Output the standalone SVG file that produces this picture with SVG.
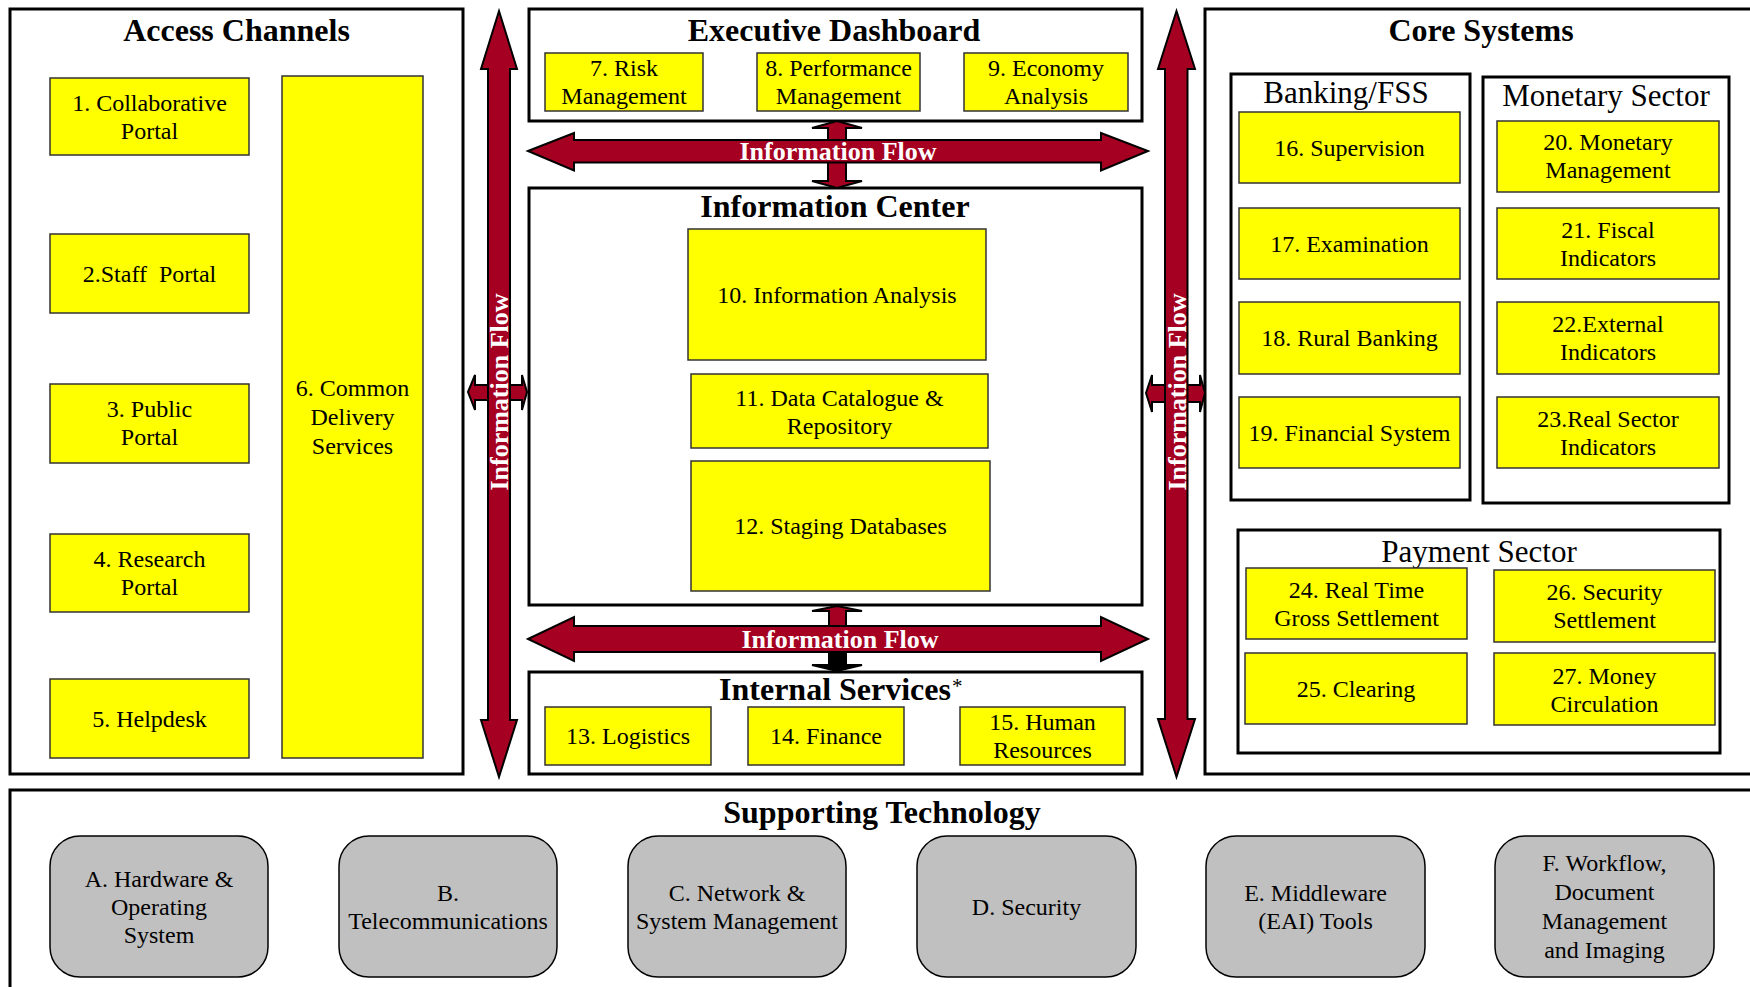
<svg xmlns="http://www.w3.org/2000/svg" width="1750" height="987" viewBox="0 0 1750 987">
<style>
text{font-family:"Liberation Serif","Times New Roman",serif;fill:#000;text-anchor:middle}
.t{font-size:24px}
.h{font-size:32px;font-weight:bold}
.s{font-size:31px}
.c{fill:#fff;stroke:#000;stroke-width:3}
.y{fill:#ffff00;stroke:#333;stroke-width:1.5}
.g{fill:#c0c0c0;stroke:#000;stroke-width:1.5}
.a{fill:#a50021;stroke:#000;stroke-width:2;stroke-linejoin:miter}
.ab{fill:#000;stroke:#000;stroke-width:2}
.f{fill:#fff;font-size:26px;font-weight:bold}
</style>
<rect width="1750" height="987" fill="#fff"/>

<g id="access-channels">
<rect class="c" x="10" y="9" width="453" height="765"/>
<text class="h" x="236.5" y="41">Access Channels</text>
<g id="n1"><rect class="y" x="50" y="78" width="199" height="77"/><text class="t" x="149.5" y="110.5">1. Collaborative</text><text class="t" x="149.5" y="138.5">Portal</text></g>
<g id="n2"><rect class="y" x="50" y="234" width="199" height="79"/><text class="t" x="149.5" y="281.5" xml:space="preserve">2.Staff  Portal</text></g>
<g id="n3"><rect class="y" x="50" y="384" width="199" height="79"/><text class="t" x="149.5" y="417">3. Public</text><text class="t" x="149.5" y="445">Portal</text></g>
<g id="n4"><rect class="y" x="50" y="534" width="199" height="78"/><text class="t" x="149.5" y="567">4. Research</text><text class="t" x="149.5" y="595">Portal</text></g>
<g id="n5"><rect class="y" x="50" y="679" width="199" height="79"/><text class="t" x="149.5" y="726.5">5. Helpdesk</text></g>
<g id="n6"><rect class="y" x="282" y="76" width="141" height="682"/><text class="t" x="352.5" y="396">6. Common</text><text class="t" x="352.5" y="425">Delivery</text><text class="t" x="352.5" y="454">Services</text></g>
</g>

<g id="executive-dashboard">
<rect class="c" x="529" y="9" width="613" height="112"/>
<text class="h" x="834" y="41">Executive Dashboard</text>
<g id="n7"><rect class="y" x="545" y="53" width="158" height="58"/><text class="t" x="624" y="76">7. Risk</text><text class="t" x="624" y="104">Management</text></g>
<g id="n8"><rect class="y" x="757" y="53" width="163" height="58"/><text class="t" x="838.5" y="76">8. Performance</text><text class="t" x="838.5" y="104">Management</text></g>
<g id="n9"><rect class="y" x="964" y="53" width="164" height="58"/><text class="t" x="1046" y="76">9. Economy</text><text class="t" x="1046" y="104">Analysis</text></g>
</g>

<g id="information-center">
<rect class="c" x="529" y="188" width="613" height="417"/>
<text class="h" x="835" y="217">Information Center</text>
<g id="n10"><rect class="y" x="688" y="229" width="298" height="131"/><text class="t" x="837" y="302.5">10. Information Analysis</text></g>
<g id="n11"><rect class="y" x="691" y="374" width="297" height="74"/><text class="t" x="839.5" y="405.5">11. Data Catalogue &amp;</text><text class="t" x="839.5" y="433.5">Repository</text></g>
<g id="n12"><rect class="y" x="691" y="461" width="299" height="130"/><text class="t" x="840.5" y="534">12. Staging Databases</text></g>
</g>

<g id="internal-services">
<rect class="c" x="529" y="672" width="613" height="102"/>
<text class="h" x="835" y="700">Internal Services</text>
<text style="font-size:21px;text-anchor:start" x="952" y="693">*</text>
<g id="n13"><rect class="y" x="545" y="707" width="166" height="58"/><text class="t" x="628" y="744">13. Logistics</text></g>
<g id="n14"><rect class="y" x="748" y="707" width="156" height="58"/><text class="t" x="826" y="744">14. Finance</text></g>
<g id="n15"><rect class="y" x="960" y="707" width="165" height="58"/><text class="t" x="1042.5" y="730">15. Human</text><text class="t" x="1042.5" y="758">Resources</text></g>
</g>

<g id="core-systems">
<rect class="c" x="1205" y="9" width="600" height="765"/>
<text class="h" x="1481" y="41">Core Systems</text>
<g id="banking-fss">
<rect class="c" x="1231" y="74" width="239" height="426"/>
<text class="s" x="1346" y="103">Banking/FSS</text>
<g id="n16"><rect class="y" x="1239" y="112" width="221" height="71"/><text class="t" x="1349.5" y="155.5">16. Supervision</text></g>
<g id="n17"><rect class="y" x="1239" y="208" width="221" height="71"/><text class="t" x="1349.5" y="251.5">17. Examination</text></g>
<g id="n18"><rect class="y" x="1239" y="302" width="221" height="72"/><text class="t" x="1349.5" y="346">18. Rural Banking</text></g>
<g id="n19"><rect class="y" x="1239" y="397" width="221" height="71"/><text class="t" x="1349.5" y="440.5">19. Financial System</text></g>
</g>
<g id="monetary-sector">
<rect class="c" x="1483" y="77" width="246" height="426"/>
<text class="s" x="1606" y="106">Monetary Sector</text>
<g id="n20"><rect class="y" x="1497" y="121" width="222" height="71"/><text class="t" x="1608" y="150">20. Monetary</text><text class="t" x="1608" y="178">Management</text></g>
<g id="n21"><rect class="y" x="1497" y="208" width="222" height="71"/><text class="t" x="1608" y="237.5">21. Fiscal</text><text class="t" x="1608" y="265.5">Indicators</text></g>
<g id="n22"><rect class="y" x="1497" y="302" width="222" height="72"/><text class="t" x="1608" y="332">22.External</text><text class="t" x="1608" y="360">Indicators</text></g>
<g id="n23"><rect class="y" x="1497" y="397" width="222" height="71"/><text class="t" x="1608" y="426.5">23.Real Sector</text><text class="t" x="1608" y="454.5">Indicators</text></g>
</g>
<g id="payment-sector">
<rect class="c" x="1238" y="530" width="482" height="223"/>
<text class="s" x="1479" y="562">Payment Sector</text>
<g id="n24"><rect class="y" x="1246" y="568" width="221" height="71"/><text class="t" x="1356.5" y="597.5">24. Real Time</text><text class="t" x="1356.5" y="625.5">Gross Settlement</text></g>
<g id="n25"><rect class="y" x="1245" y="653" width="222" height="71"/><text class="t" x="1356" y="696.5">25. Clearing</text></g>
<g id="n26"><rect class="y" x="1494" y="570" width="221" height="72"/><text class="t" x="1604.5" y="600">26. Security</text><text class="t" x="1604.5" y="628">Settlement</text></g>
<g id="n27"><rect class="y" x="1494" y="653" width="221" height="72"/><text class="t" x="1604.5" y="683.5">27. Money</text><text class="t" x="1604.5" y="711.5">Circulation</text></g>
</g>
</g>

<g id="supporting-technology">
<rect class="c" x="10" y="790" width="1800" height="300"/>
<text class="h" x="882" y="823">Supporting Technology</text>
<g id="nA"><rect class="g" x="50" y="836" width="218" height="141" rx="30"/><text class="t" x="159" y="886.5">A. Hardware &amp;</text><text class="t" x="159" y="914.5">Operating</text><text class="t" x="159" y="942.5">System</text></g>
<g id="nB"><rect class="g" x="339" y="836" width="218" height="141" rx="30"/><text class="t" x="448" y="900.5">B.</text><text class="t" x="448" y="928.5">Telecommunications</text></g>
<g id="nC"><rect class="g" x="628" y="836" width="218" height="141" rx="30"/><text class="t" x="737" y="900.5">C. Network &amp;</text><text class="t" x="737" y="928.5">System Management</text></g>
<g id="nD"><rect class="g" x="917" y="836" width="219" height="141" rx="30"/><text class="t" x="1026.5" y="914.5">D. Security</text></g>
<g id="nE"><rect class="g" x="1206" y="836" width="219" height="141" rx="30"/><text class="t" x="1315.5" y="900.5">E. Middleware</text><text class="t" x="1315.5" y="928.5">(EAI) Tools</text></g>
<g id="nF"><rect class="g" x="1495" y="836" width="219" height="141" rx="30"/><text class="t" x="1604.5" y="871">F. Workflow,</text><text class="t" x="1604.5" y="900">Document</text><text class="t" x="1604.5" y="929">Management</text><text class="t" x="1604.5" y="958">and Imaging</text></g>
</g>

<g id="connectors">
<path class="a" d="M837,121 L862,128 L846,128 L846,142 L828,142 L828,128 L812,128 Z"/>
<path class="a" d="M828,161 L846,161 L846,181 L862,181 L837,188 L812,181 L828,181 Z"/>
<path class="a" d="M528,151 L574,133 L574,140 L1101,140 L1101,133 L1148,151 L1101,170.5 L1101,162.5 L574,162.5 L574,170.5 Z"/>
<text class="f" x="838" y="160">Information Flow</text>
<path class="a" d="M837,606 L862,611 L846,611 L846,627 L829,627 L829,611 L812,611 Z"/>
<path class="ab" d="M829,651 L846,651 L846,665 L862,665 L837,671 L812,665 L829,665 Z"/>
<path class="a" d="M528,639 L574,617 L574,626 L1101,626 L1101,617 L1148,639 L1101,661 L1101,652 L574,652 L574,661 Z"/>
<text class="f" x="840" y="648">Information Flow</text>
<path class="a" d="M468,392 L475,375 L475,385 L522,385 L522,375 L527,392 L522,410 L522,400 L475,400 L475,410 Z"/>
<path class="a" d="M499,11 L517,69 L510,69 L510,720 L517,720 L499,777 L481,720 L488,720 L488,69 L481,69 Z"/>
<text class="f" transform="translate(508,392) rotate(-90)" x="0" y="0">Information Flow</text>
<path class="a" d="M1146,393 L1152,375 L1152,385 L1200,385 L1200,375 L1205,393 L1200,412 L1200,402 L1152,402 L1152,412 Z"/>
<path class="a" d="M1176.5,11 L1195,69 L1187.5,69 L1187.5,719 L1195,719 L1176.5,777 L1158,719 L1165,719 L1165,69 L1158,69 Z"/>
<text class="f" transform="translate(1185.5,392) rotate(-90)" x="0" y="0">Information Flow</text>
</g>
</svg>
